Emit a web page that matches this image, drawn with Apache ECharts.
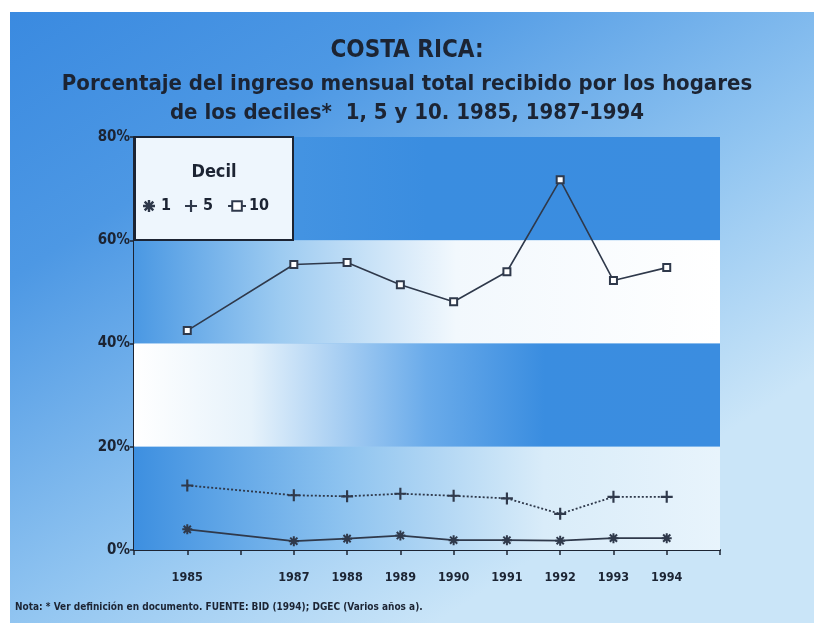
<!DOCTYPE html>
<html>
<head>
<meta charset="utf-8">
<script src="https://cdn.jsdelivr.net/npm/echarts@6/dist/echarts.min.js"></script>
<style>
html,body{margin:0;padding:0;background:#fff;}
#chart{width:814px;height:623px;}
</style>
</head>
<body>
<div id="chart"></div>
<script>
// ---- data ----
const years = [1985, 1987, 1988, 1989, 1990, 1991, 1992, 1993, 1994];
const decil1 = [4.0, 1.7, 2.2, 2.8, 1.9, 1.9, 1.8, 2.3, 2.3];
const decil5 = [12.5, 10.6, 10.4, 10.9, 10.5, 10.0, 7.0, 10.3, 10.3];
const decil10 = [42.5, 55.3, 55.7, 51.4, 48.1, 53.9, 71.7, 52.2, 54.7];
const seriesNames = ['1', '5', '10'];
const yTickValues = [0, 20, 40, 60, 80];
const xLabelYears = [1985, 1987, 1988, 1989, 1990, 1991, 1992, 1993, 1994];
const titleText = 'COSTA RICA:';
const subtitleText = 'Porcentaje del ingreso mensual total recibido por los hogares\nde los deciles*  1, 5 y 10. 1985, 1987-1994';
const legendTitle = 'Decil';
const noteText = 'Nota: * Ver definición en documento. FUENTE: BID (1994); DGEC (Varios años a).';

// ---- layout / style ----
const FONT = '"Liberation Sans Narrow", "DejaVu Sans Condensed", "Liberation Sans", sans-serif';
const G = {left: 134, top: 137, right: 814 - 720, bottom: 623 - 550};
const INK = '#1c2433';
const LINE = '#2f394b';

const asterisk = 'path://M0,4 L10,4 L10,6 L0,6 Z M4,0 L6,0 L6,10 L4,10 Z M0.7,2.1 L2.1,0.7 L9.3,7.9 L7.9,9.3 Z M7.9,0.7 L9.3,2.1 L2.1,9.3 L0.7,7.9 Z';
const plus = 'path://M0,4.1 L10,4.1 L10,5.9 L0,5.9 Z M4.1,0 L5.9,0 L5.9,10 L4.1,10 Z';

function pairs(vals) { return years.map((y, i) => [y, vals[i]]); }
function grad(stops) {
  return new echarts.graphic.LinearGradient(0, 0, 1, 0, stops.map(s => ({offset: s[0], color: s[1]})));
}
const BLUE = '#3a8de0';

const chart = echarts.init(document.getElementById('chart'), null, {renderer: 'canvas'});
const option = {
  backgroundColor: '#ffffff',
  animation: false,
  graphic: [
    {
      type: 'rect', z: -10, silent: true,
      shape: {x: 10, y: 12, width: 814, height: 623},
      style: {
        fill: new echarts.graphic.LinearGradient(0, 0, 0.5, 1, [
          {offset: 0, color: '#3a8ae0'},
          {offset: 0.3, color: '#4d98e4'},
          {offset: 0.7, color: '#93c6f1'},
          {offset: 1, color: '#cae5f8'}
        ])
      }
    },
    {
      type: 'rect', z: 5, silent: true,
      shape: {x: G.left + 1, y: G.top, width: 158, height: 103},
      style: {fill: '#eef6fd', stroke: INK, lineWidth: 2}
    }
  ],
  title: [
    {
      text: titleText, left: 'center', top: 34,
      textStyle: {fontFamily: FONT, fontWeight: 'bold', fontSize: 24, color: INK}
    },
    {
      text: subtitleText, left: 'center', top: 65,
      textStyle: {fontFamily: FONT, fontWeight: 'bold', fontSize: 22, lineHeight: 29, color: INK}
    },
    {
      text: legendTitle, left: 209, top: 158, textAlign: 'center', z: 10,
      textStyle: {fontFamily: FONT, fontWeight: 'bold', fontSize: 18, color: INK}
    },
    {
      text: noteText, left: 10, top: 597,
      textStyle: {fontFamily: FONT, fontWeight: 'bold', fontSize: 10, color: INK}
    }
  ],
  legend: {
    left: 138, top: 193, z: 10,
    itemWidth: 18, itemHeight: 12, itemGap: 14,
    textStyle: {fontFamily: FONT, fontWeight: 'bold', fontSize: 16, color: INK, padding: [0, 0, 0, -2]},
    data: [
      {name: seriesNames[0], icon: asterisk},
      {name: seriesNames[1], icon: plus},
      {name: seriesNames[2]}
    ]
  },
  grid: {left: G.left, top: G.top, right: G.right, bottom: G.bottom, containLabel: false},
  xAxis: {
    type: 'value', min: 1984, max: 1995, interval: 1,
    axisLine: {show: true, lineStyle: {color: INK, width: 2}},
    axisTick: {show: true, length: 5, lineStyle: {color: INK, width: 1.5}},
    splitLine: {show: false},
    axisLabel: {
      margin: 21,
      fontFamily: FONT, fontWeight: 'bold', fontSize: 12.5, color: INK,
      formatter: v => xLabelYears.indexOf(v) >= 0 ? String(v) : ''
    }
  },
  yAxis: {
    type: 'value', min: 0, max: 80, interval: 20,
    axisLine: {show: true, lineStyle: {color: INK, width: 2}},
    axisTick: {show: true, length: 4, lineStyle: {color: INK, width: 1.5}},
    splitLine: {show: false},
    axisLabel: {
      margin: 4,
      fontFamily: FONT, fontWeight: 'bold', fontSize: 15, color: INK,
      formatter: v => yTickValues.indexOf(v) >= 0 ? v + '%' : ''
    }
  },
  series: [
    {
      name: seriesNames[0], type: 'line', data: pairs(decil1), z: 3,
      symbol: asterisk, symbolSize: 10,
      itemStyle: {color: LINE},
      lineStyle: {color: LINE, width: 1.8},
      markArea: {
        silent: true, z: 1,
        data: [
          [{yAxis: 60, itemStyle: {color: grad([[0, '#4f9be4'], [0.5, BLUE], [1, '#3b8de0']])}}, {yAxis: 80}],
          [{yAxis: 40, itemStyle: {color: grad([[0, '#4a98e3'], [0.25, '#9dcbf1'], [0.55, '#f2f8fd'], [1, '#ffffff']])}}, {yAxis: 60}],
          [{yAxis: 20, itemStyle: {color: grad([[0, '#ffffff'], [0.2, '#e6f2fb'], [0.5, '#6aabea'], [0.7, BLUE], [1, '#3b8de0']])}}, {yAxis: 40}],
          [{yAxis: 0, itemStyle: {color: grad([[0, '#3d8fe0'], [0.35, '#8cc2ef'], [0.7, '#d9ecf9'], [1, '#e8f4fc']])}}, {yAxis: 20}]
        ]
      }
    },
    {
      name: seriesNames[1], type: 'line', data: pairs(decil5), z: 3,
      symbol: plus, symbolSize: 12,
      itemStyle: {color: LINE},
      lineStyle: {color: LINE, width: 1.8, type: [2, 2]}
    },
    {
      name: seriesNames[2], type: 'line', data: pairs(decil10), z: 3,
      symbol: 'emptyRect', symbolSize: 7,
      itemStyle: {color: LINE, borderWidth: 1.8, borderColor: LINE},
      lineStyle: {color: LINE, width: 1.6}
    }
  ]
};
chart.setOption(option);
</script>
</body>
</html>
